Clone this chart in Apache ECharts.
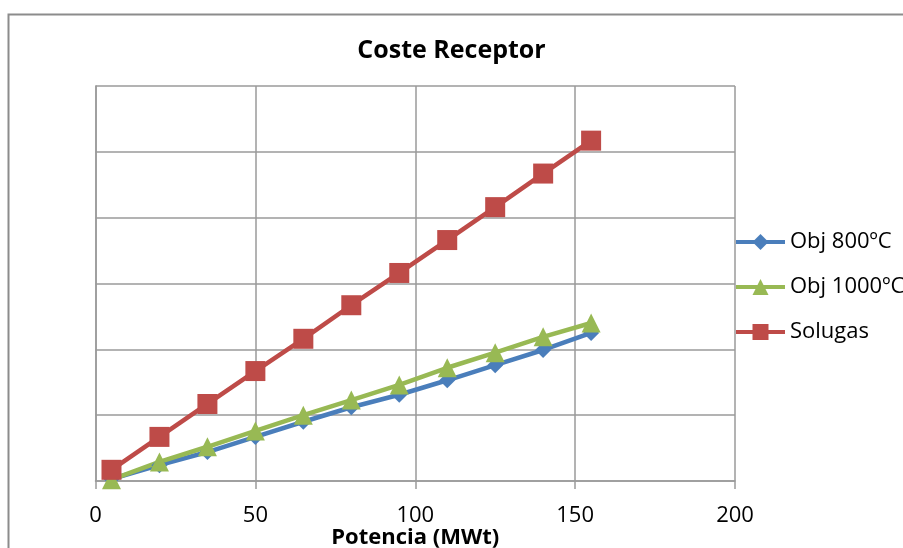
<!DOCTYPE html>
<html>
<head>
<meta charset="utf-8">
<title>Coste Receptor</title>
<script src="https://cdn.jsdelivr.net/npm/echarts@6/dist/echarts.min.js"></script>
<style>
  html, body { margin: 0; padding: 0; background: #fff; }
  #chart { width: 903px; height: 548px; }
</style>
</head>
<body>
<div id="chart"></div>
<script>
// Receiver thermal power (MWt) on the x axis
const potencia = [5, 20, 35, 50, 65, 80, 95, 110, 125, 140, 155];
// Receiver cost per design case (no y scale is shown on the chart)
const obj800 = [0.3, 2.4, 4.4, 6.7, 9.0, 11.2, 13.1, 15.3, 17.6, 19.9, 22.5];
const obj1000 = [0.2, 2.9, 5.2, 7.6, 10.0, 12.3, 14.6, 17.2, 19.5, 21.9, 24.0];
const solugas = [1.7, 6.7, 11.7, 16.7, 21.6, 26.7, 31.6, 36.6, 41.6, 46.7, 51.7];
const seriesNames = ['Obj 800ºC', 'Obj 1000ºC', 'Solugas'];
const xTicks = [0, 50, 100, 150, 200];

const pairs = ys => potencia.map((x, i) => [x, ys[i]]);
const font = '"Open Sans", "Noto Sans", sans-serif';
const gridColor = '#9a9a9a';

const chart = echarts.init(document.getElementById('chart'), null, { renderer: 'canvas' });

function lineSeries(name, data, color, symbol, size) {
  return {
    name: name,
    type: 'line',
    data: pairs(data),
    symbol: symbol,
    symbolSize: size,
    showAllSymbol: true,
    lineStyle: { color: color, width: 4.5 },
    itemStyle: { color: color },
    emphasis: { disabled: true },
    animation: false
  };
}

chart.setOption({
  animation: false,
  backgroundColor: '#ffffff',
  graphic: [{
    type: 'rect',
    shape: { x: 8.5, y: 14.5, width: 1000, height: 600 },
    style: { fill: 'none', stroke: '#8c8c8c', lineWidth: 2 },
    silent: true,
    z: -10
  }],
  title: {
    text: 'Coste Receptor',
    left: 'center',
    top: 33,
    padding: [5, 5, 5, 25],
    textStyle: { fontFamily: font, fontSize: 25, fontWeight: 'bold', color: '#000' }
  },
  legend: {
    orient: 'vertical',
    left: 734,
    top: 231,
    itemWidth: 49,
    itemHeight: 20,
    itemGap: 23,
    padding: 0,
    lineStyle: { width: 4 },
    textStyle: { fontFamily: font, fontSize: 22, color: '#000', lineHeight: 22 },
    data: seriesNames
  },
  grid: { left: 95.5, right: 168, top: 86, bottom: 67, containLabel: false, outerBoundsMode: 'none' },
  xAxis: {
    type: 'value',
    min: xTicks[0],
    max: xTicks[xTicks.length - 1],
    interval: 50,
    name: 'Potencia (MWt)',
    nameLocation: 'middle',
    nameGap: 46,
    nameMoveOverlap: false,
    nameTextStyle: { fontFamily: font, fontSize: 22, fontWeight: 'bold', color: '#000' },
    axisLine: { show: true, lineStyle: { color: gridColor, width: 1.5 } },
    axisTick: { show: true, length: 8, inside: false, lineStyle: { color: gridColor, width: 1.5 } },
    axisLabel: { fontFamily: font, fontSize: 22, color: '#000', margin: 24 },
    splitLine: { show: true, lineStyle: { color: gridColor, width: 1.5 } }
  },
  yAxis: {
    type: 'value',
    min: 0,
    max: 60,
    interval: 10,
    axisLine: { show: true, lineStyle: { color: gridColor, width: 1.5 } },
    axisTick: { show: false },
    axisLabel: { show: false },
    splitLine: { show: true, lineStyle: { color: gridColor, width: 1.5 } }
  },
  series: [
    lineSeries(seriesNames[0], obj800, '#4a7ebb', 'diamond', 16),
    lineSeries(seriesNames[1], obj1000, '#98b954', 'triangle', 19),
    lineSeries(seriesNames[2], solugas, '#be4b48', 'rect', 20)
  ]
});
</script>
</body>
</html>
